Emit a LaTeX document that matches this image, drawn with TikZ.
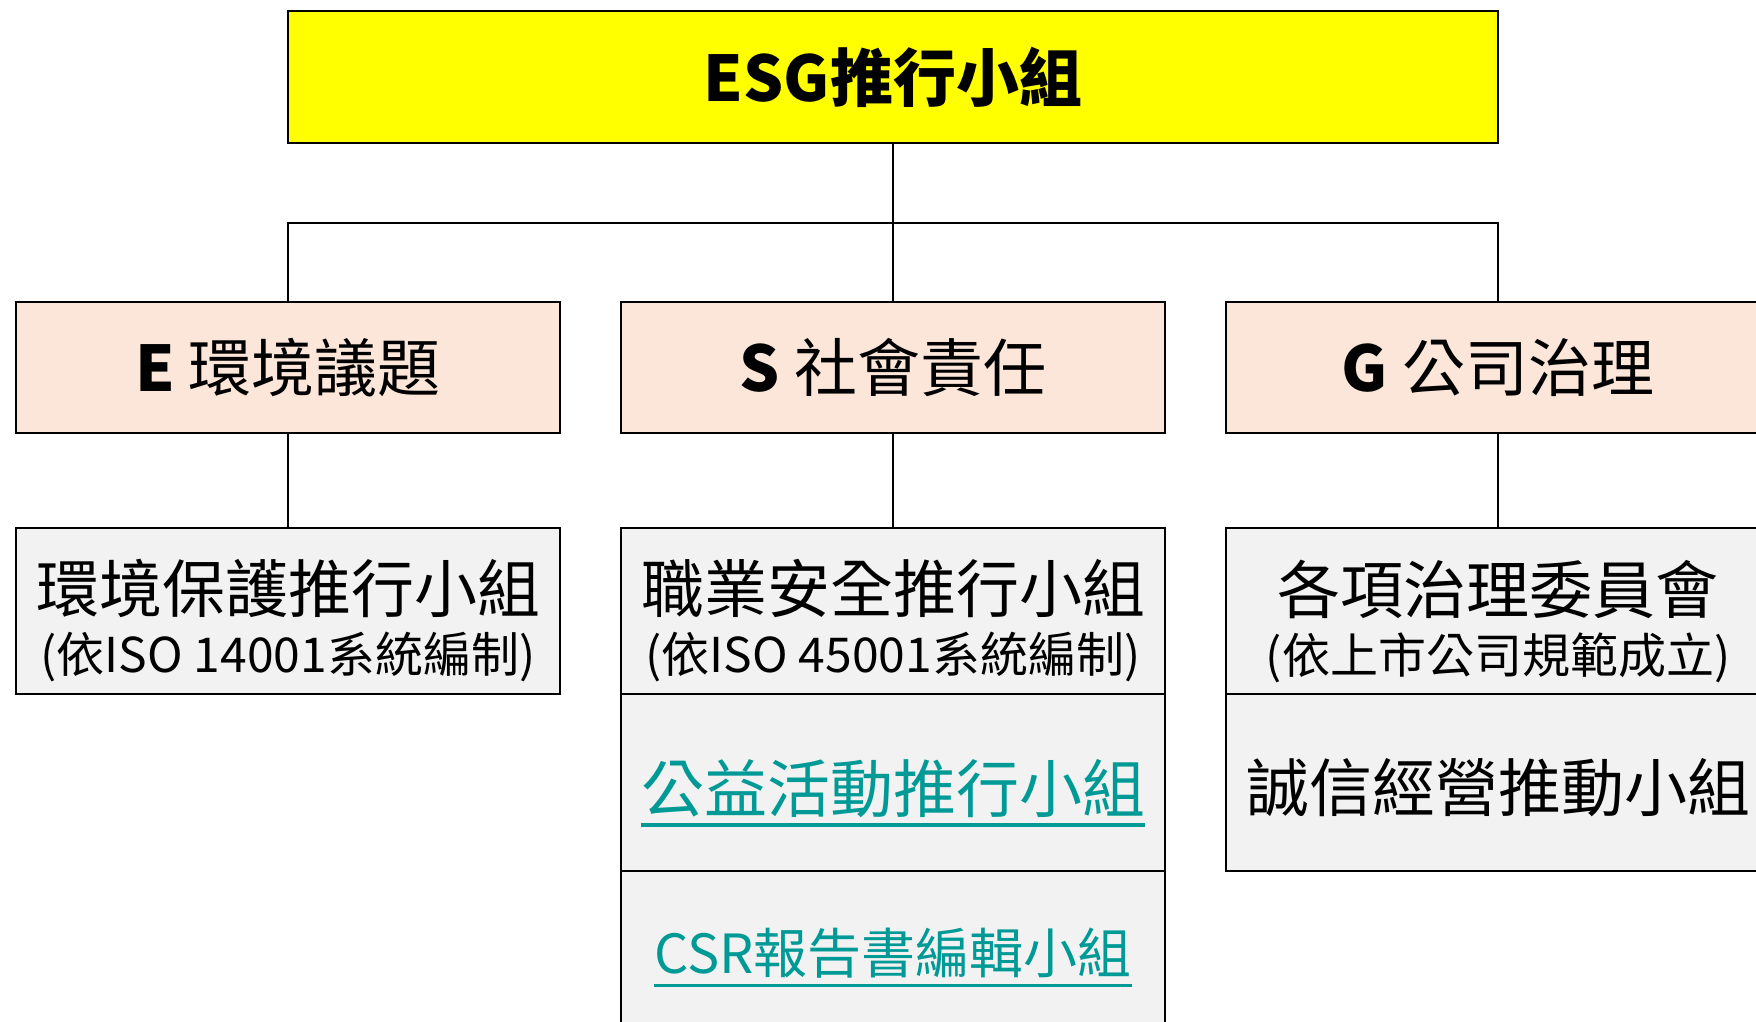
\documentclass[tikz,border=0pt]{standalone}
\usepackage{fontspec}
\setmainfont{Noto Sans CJK TC}
\usepackage{tikz}

\definecolor{esgyellow}{HTML}{FFFF00}
\definecolor{pillarpeach}{HTML}{FBE6D9}
\definecolor{teamgrey}{HTML}{F2F2F2}
\definecolor{linkteal}{HTML}{009A96}

\tikzset{
  box/.style={draw, line width=2.7pt, inner sep=0pt, outer sep=0pt,
    minimum width=544pt, align=center},
  topbox/.style={box, fill=esgyellow, minimum width=1210pt, minimum height=132pt,
    font=\fontsize{63}{70}\selectfont\bfseries},
  pillar/.style={box, fill=pillarpeach, minimum height=131pt,
    font=\fontsize{63}{70}\selectfont},
  team/.style={box, fill=teamgrey},
  teamtext/.style={inner sep=0pt, align=center, font=\fontsize{63}{60}\selectfont},
  linktext/.style={inner sep=0pt, text=linkteal, font=\fontsize{63}{70}\selectfont},
  link/.style={draw, line width=2.7pt},
  linkline/.style={draw=linkteal, line width=3.4pt}
}

\begin{document}
\begin{tikzpicture}[x=1pt,y=-1pt]
\useasboundingbox (0,0) rectangle (1756,1022);
\clip (0,0) rectangle (1756,1022);
% top
\node[topbox] (esg) at (893,77) {ESG推行小組};
% E S G
\node[pillar] (e) at (288,367.5) {{\bfseries E} 環境議題};
\node[pillar] (s) at (893,367.5) {{\bfseries S} 社會責任};
\node[pillar] (g) at (1498,367.5) {{\bfseries G} 公司治理};
% teams
\node[team, minimum height=166pt] (e1) at (288,611) {};
\node[team, minimum height=166pt] (s1) at (893,611) {};
\node[team, minimum height=177pt] (s2) at (893,782.5) {};
\node[team, minimum height=177pt] (s3) at (893,959.5) {};
\node[team, minimum height=166pt] (g1) at (1498,611) {};
\node[team, minimum height=177pt] (g2) at (1498,782.5) {};
\node[teamtext] (e1t) at (288,621) {環境保護推行小組\\{\fontsize{48}{60}\selectfont (依ISO 14001系統編制)}};
\node[teamtext] (s1t) at (893,621) {職業安全推行小組\\{\fontsize{48}{60}\selectfont (依ISO 45001系統編制)}};
\node[teamtext] (g1t) at (1498,621) {各項治理委員會\\{\fontsize{48}{60}\selectfont (依上市公司規範成立)}};
\node[teamtext] (g2t) at (1498,788) {誠信經營推動小組};
\node[linktext] (s2t) at (893,789) {公益活動推行小組};
\node[linktext, font=\fontsize{54}{60}\selectfont] (s3t) at (893,953) {CSR報告書編輯小組};
\draw[linkline] ([yshift=-12pt]s2t.base west) -- ([yshift=-12pt]s2t.base east);
\draw[linkline] ([yshift=-12pt]s3t.base west) -- ([yshift=-12pt]s3t.base east);
% connectors
\coordinate (bus) at (893,223);
\draw[link] (esg.south) -- (s.north);
\draw[link] (e.north) |- (bus) -| (g.north);
\draw[link] (e.south) -- (e1.north);
\draw[link] (s.south) -- (s1.north);
\draw[link] (g.south) -- (g1.north);
\end{tikzpicture}
\end{document}
